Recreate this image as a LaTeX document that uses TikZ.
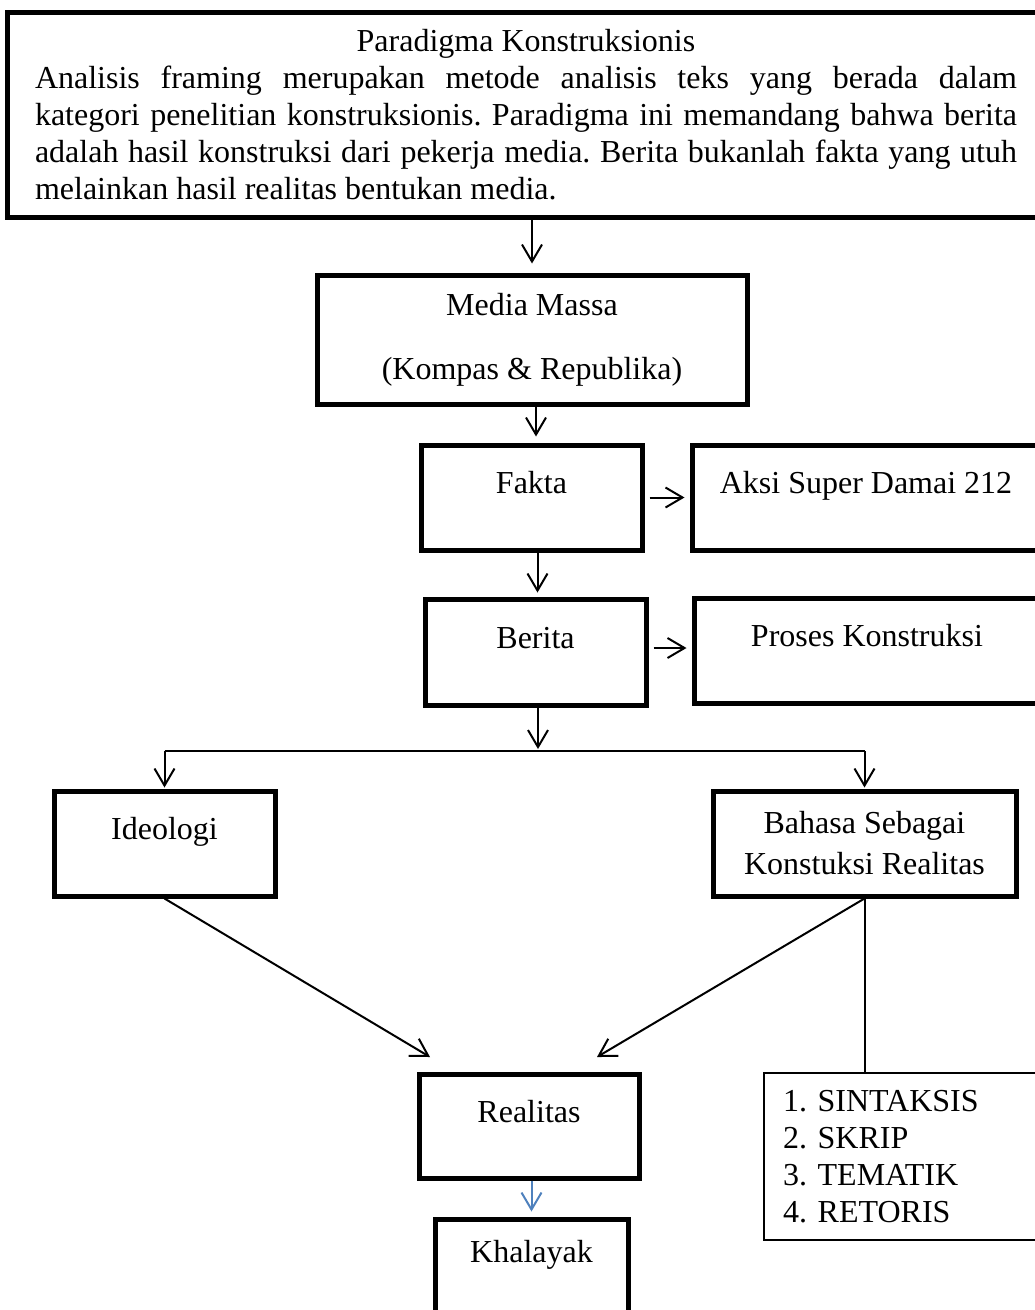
\documentclass[tikz,border=0pt]{standalone}
\usepackage{fontspec}
\setmainfont{Liberation Serif}
\usetikzlibrary{arrows.meta,positioning}
\definecolor{flowblue}{RGB}{79,129,189}

\tikzstyle{box} = [draw=black, line width=5pt, rectangle, inner sep=0pt]
\tikzstyle{labelbox} = [box, text height=23pt, text depth=31pt]
\tikzstyle{listbox} = [draw=black, line width=1.8pt, rectangle,
  inner xsep=19pt, text width=252pt, align=left]
\tikzstyle{flow} = [-{Straight Barb[length=17pt,width=20pt]},
  line width=2pt, shorten >=4pt]
\tikzstyle{link} = [line width=2pt]

\begin{document}
\begin{tikzpicture}[x=1pt, y=-1pt, font=\fontsize{32pt}{37pt}\selectfont\frenchspacing]
        \useasboundingbox (0,0) rectangle (1035,1310);
        \clip (0,0) rectangle (1035,1310);

        \node [box, minimum width=1037pt, minimum height=205pt,
               text width=982pt, align=justify] (paradigma) at (526,115)
          {\noindent\makebox[\linewidth]{Paradigma Konstruksionis}\par
           \noindent Analisis framing merupakan metode analisis teks yang berada dalam\linebreak
           kategori penelitian konstruksionis. Paradigma ini memandang bahwa berita\linebreak
           adalah hasil konstruksi dari pekerja media. Berita bukanlah fakta yang utuh\linebreak
           melainkan hasil realitas bentukan media.};
        \node [box, minimum width=430pt, minimum height=129pt, align=center]
          (media) at (532,339.5) {Media Massa\\[27pt](Kompas \& Republika)};
        \node [labelbox, minimum width=221pt, minimum height=105pt] (fakta)    at (531.5,497.5) {Fakta};
        \node [labelbox, minimum width=348pt, minimum height=105pt] (aksi)     at (866,497.5)   {Aksi Super Damai 212};
        \node [labelbox, minimum width=221pt, minimum height=106pt] (berita)   at (535.5,652)   {Berita};
        \node [labelbox, minimum width=346pt, minimum height=105pt] (proses)   at (867,650.5)   {Proses Konstruksi};
        \node [labelbox, minimum width=221pt, minimum height=105pt] (ideologi) at (164.5,843.5) {Ideologi};
        \node [box, minimum width=303pt, minimum height=105pt, align=center]
          (bahasa) at (864.5,843.5) {Bahasa Sebagai\\[4pt]Konstuksi Realitas};
        \node [labelbox, minimum width=220pt, minimum height=104pt] (realitas) at (529,1126)    {Realitas};
        \node [labelbox, text depth=42pt, minimum width=193pt, minimum height=105pt]
          (khalayak) at (531.5,1271.5) {Khalayak};
        \node [listbox, minimum height=167pt] (elemen) at (909,1156.5)
          {1. SINTAKSIS\\2. SKRIP\\3. TEMATIK\\4. RETORIS};

        \coordinate (split) at (538,751);
        \coordinate (inL)   at (430,1057);
        \coordinate (inR)   at (597,1057);

        \draw [flow, shorten >=9pt] (paradigma.south -| media.north) -- (media.north);
        \draw [flow, shorten >=6pt] ([xshift=4pt]media.south) -- ([xshift=4pt]media.south |- fakta.north);
        \draw [flow, shorten <=5pt, shorten >=5pt] (fakta.east) -- (aksi.west);
        \draw [flow] ([xshift=6pt]fakta.south) -- ([xshift=6pt]fakta.south |- berita.north);
        \draw [flow, shorten <=5pt, shorten >=5pt] ([yshift=4pt]berita.east) -- ([yshift=4pt]berita.east -| proses.west);
        \draw [flow, shorten >=2pt] (berita.south -| split) -- (split);
        \draw [link] (ideologi.north |- split) -- (bahasa.north |- split);
        \draw [flow, shorten >=1pt] (ideologi.north |- split) -- (ideologi.north);
        \draw [flow, shorten >=1pt] (bahasa.north |- split) -- (bahasa.north);
        \draw [flow, shorten >=0pt] (ideologi.south) -- (inL);
        \draw [flow, shorten >=0pt] (bahasa.south) -- (inR);
        \draw [link] (bahasa.south) -- (bahasa.south |- elemen.north);
        \draw [flow, draw=flowblue, shorten >=5pt] (realitas.south -| khalayak.north) -- (khalayak.north);
\end{tikzpicture}
\end{document}
